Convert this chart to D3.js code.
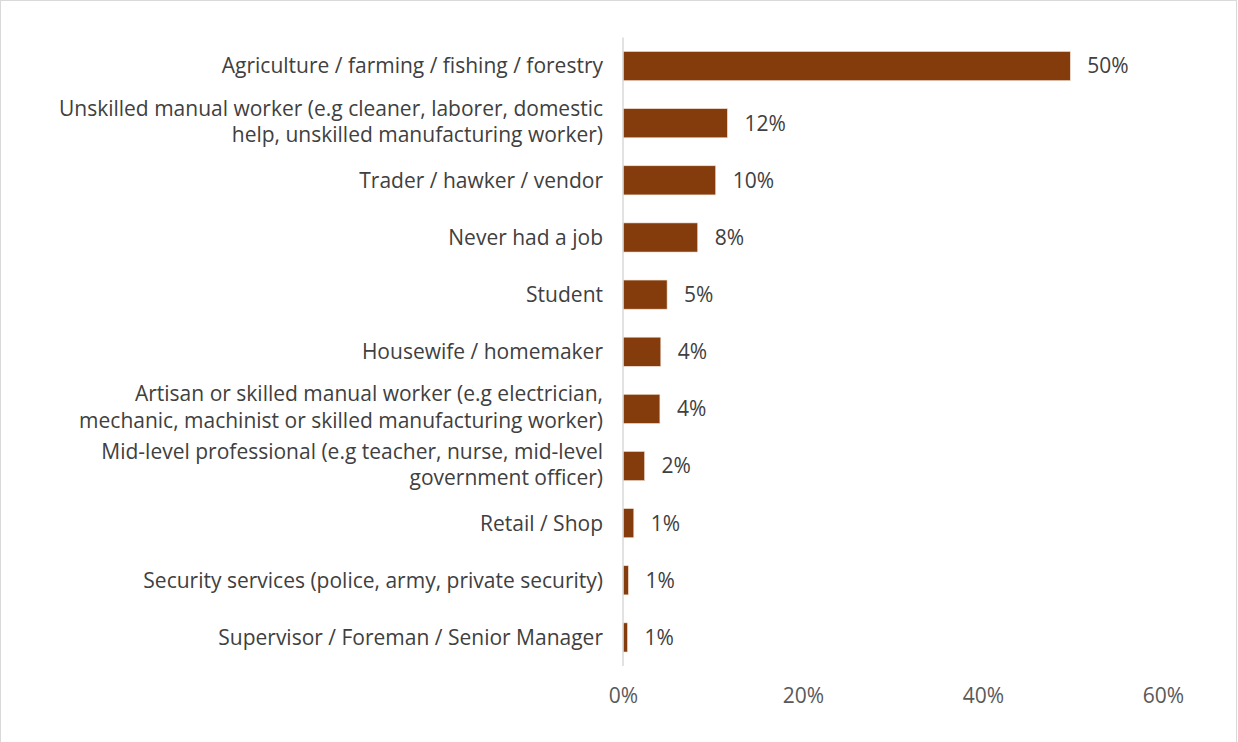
<!DOCTYPE html>
<html>
<head>
<meta charset="utf-8">
<script src="https://cdn.jsdelivr.net/npm/d3@7"></script>
<style>
  html, body { margin: 0; padding: 0; background: #fff; }
  svg { display: block; }
  text { font-family: "Open Sans", "Lato", sans-serif; }
</style>
</head>
<body>
<svg id="chart" width="1238" height="742"></svg>
<script>
// Occupation categories (label lines) and share of respondents, in percent
const categories = [
  ["Agriculture / farming / fishing / forestry"],
  ["Unskilled manual worker (e.g cleaner, laborer, domestic", "help, unskilled manufacturing worker)"],
  ["Trader / hawker / vendor"],
  ["Never had a job"],
  ["Student"],
  ["Housewife / homemaker"],
  ["Artisan or skilled manual worker (e.g electrician,", "mechanic, machinist or skilled manufacturing worker)"],
  ["Mid-level professional (e.g teacher, nurse, mid-level", "government officer)"],
  ["Retail / Shop"],
  ["Security services (police, army, private security)"],
  ["Supervisor / Foreman / Senior Manager"]
];
const values = [49.7, 11.6, 10.3, 8.3, 4.9, 4.2, 4.1, 2.4, 1.2, 0.6, 0.5];
const xTicks = [0, 20, 40, 60];

const data = categories.map((c, i) => ({ key: i, lines: c, value: values[i] }));

const svg = d3.select("#chart");
const W = 1238, H = 742;
const margin = { left: 623, right: 75, top: 37.5, bottom: 76 };
const FS = 21;
const LINE = 26.5; // px between wrapped label lines

// outer frame
svg.append("rect")
  .attr("x", 0.5).attr("y", 0.5)
  .attr("width", W - 2).attr("height", H + 10)
  .attr("fill", "#fff").attr("stroke", "#d9d9d9");

const x = d3.scaleLinear().domain([0, 60]).range([margin.left, W - margin.right]);
const y = d3.scaleBand()
  .domain(data.map(d => d.key))
  .range([margin.top, H - margin.bottom])
  .paddingInner(0.49).paddingOuter(0.245);

// bars
svg.append("g").selectAll("rect").data(data).join("rect")
  .attr("x", x(0))
  .attr("y", d => y(d.key))
  .attr("width", d => x(d.value) - x(0))
  .attr("height", y.bandwidth())
  .attr("fill", "#843c0c")
  .attr("stroke", "#f2e0d3")
  .attr("stroke-width", 0.6);

// vertical category axis line
svg.append("line")
  .attr("x1", x(0)).attr("x2", x(0))
  .attr("y1", margin.top).attr("y2", H - margin.bottom)
  .attr("stroke", "#d9d9d9").attr("stroke-width", 1.5);

// value labels
svg.append("g").selectAll("text").data(data).join("text")
  .attr("x", d => x(d.value) + 17)
  .attr("y", d => y(d.key) + y.bandwidth() / 2)
  .attr("dy", "0.35em")
  .attr("fill", "#404040")
  .attr("font-size", FS)
  .text(d => Math.round(d.value) + "%");

// category labels, one text element per line
const cat = svg.append("g");
data.forEach(d => {
  const n = d.lines.length;
  const cy = y(d.key) + y.bandwidth() / 2 - (n > 1 ? 1.5 : 0);
  d.lines.forEach((t, i) => {
    cat.append("text")
      .attr("text-anchor", "end")
      .attr("fill", "#404040")
      .attr("font-size", FS)
      .attr("x", x(0) - 20)
      .attr("y", cy + (i - (n - 1) / 2) * LINE)
      .attr("dy", "0.35em")
      .text(t);
  });
});

// bottom value axis (labels only)
const xAxis = d3.axisBottom(x).tickValues(xTicks).tickFormat(d => d + "%").tickSize(0);
const gx = svg.append("g").attr("transform", `translate(0, ${H - margin.bottom + 19})`).call(xAxis);
gx.select(".domain").remove();
gx.selectAll("text")
  .attr("fill", "#595959")
  .attr("font-size", FS)
  .attr("font-family", "'Open Sans', Lato, sans-serif");
</script>
</body>
</html>
